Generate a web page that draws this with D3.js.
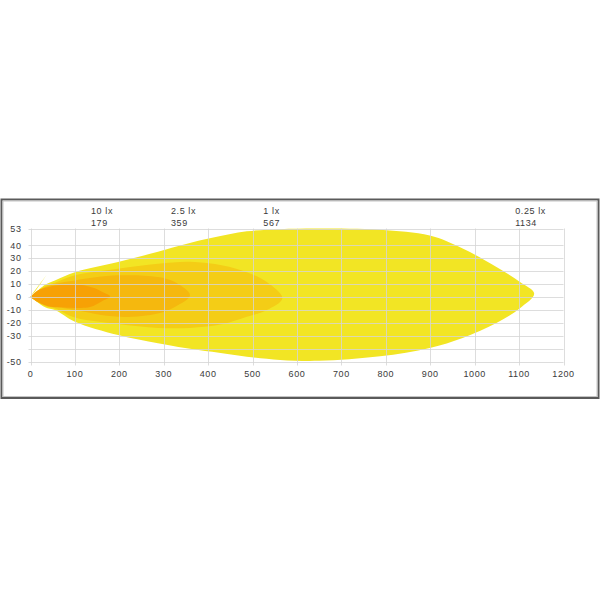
<!DOCTYPE html>
<html>
<head>
<meta charset="utf-8">
<script src="https://cdn.jsdelivr.net/npm/d3@7"></script>
<style>
  body { margin: 0; background: #fff; }
  text { font-family: "Liberation Sans", Arial, sans-serif; font-size: 9px; fill: #3a3a3a; letter-spacing: 0.6px; }
</style>
</head>
<body>
<div id="chart"></div>
<script>
// axis ticks
var xTicks = [0, 100, 200, 300, 400, 500, 600, 700, 800, 900, 1000, 1100, 1200];
var yTicks = [53, 40, 30, 20, 10, 0, -10, -20, -30, -50];
var yGrid = [53, 40, 30, 20, 10, 0, -10, -20, -30, -40, -50];

// isolux levels and their reach (m)
var levels = ["10 lx", "2.5 lx", "1 lx", "0.25 lx"];
var reach = [179, 359, 567, 1134];

// outlines, [distance, lateral]
var beam025 = [[0,0],[33,9.5],[55,12.8],[100,19.2],[197,27],[287,35],[348,40.8],[409,45.8],[487,50.8],
  [562,52.5],[650,53],[787,52],[899,47.5],[973,37.5],[1050,23],[1102,11.5],[1134,2.6],
  [1102,-8.7],[1050,-20],[973,-31.8],[899,-39.5],[787,-46],[650,-49.5],[562,-48.8],[487,-46.3],
  [409,-42.5],[348,-39.5],[287,-35.8],[197,-29.5],[100,-19.2],[55,-10.2],[33,-8],[0,0]];
var beam1 = [[0,0],[33,8.3],[55,11],[100,16.7],[197,21.8],[287,25.7],[359,27.3],[433,24.4],[487,19.2],
  [532,11.5],[567,-1],[532,-10.2],[487,-15.4],[433,-21],[359,-24],[287,-24],[197,-21],[100,-16],
  [55,-9],[33,-7],[0,0]];
var beam25 = [[0,0],[20,5.5],[55,10],[100,12.8],[197,16.7],[287,15.4],[325,11.5],[359,1.3],[325,-7.7],
  [287,-12.8],[197,-15.4],[100,-10.2],[55,-7.5],[20,-4.5],[0,0]];
var beam10 = [[0,0],[17,5.2],[39,7.5],[62,9],[111,9.5],[145,6.7],[163,3.6],[179,0.5],[160,-3.5],[134,-7.8],
  [89,-8.3],[39,-7.2],[17,-4],[0,0]];
var spikeUp = [[0,0.5],[36,17],[10,4]];
var spikeDown = [[0,-0.5],[24,-8],[8,-3]];

var width = 600, height = 600;
var colors = { b025: "#f2e524", b1: "#f4cd16", b25: "#f5b80e", b10: "#f7a105" };

var svg = d3.select("#chart").append("svg")
  .attr("width", width).attr("height", height);

var x = d3.scaleLinear().domain([0, 1200]).range([30.5, 563.5]);
var y = d3.scaleLinear().domain([-50, 53]).range([361.5, 228.5]);

// frame
svg.append("rect").attr("x", 1.5).attr("y", 199.5).attr("width", 597).attr("height", 198.5)
  .attr("fill", "none").attr("stroke", "#5a5a5a").attr("stroke-width", 2);
svg.append("rect").attr("x", 3).attr("y", 201).attr("width", 594).attr("height", 195.5)
  .attr("fill", "none").attr("stroke", "#c4c4c4").attr("stroke-width", 1);

var smooth = d3.line().x(function (d) { return x(d[0]); }).y(function (d) { return y(d[1]); })
  .curve(d3.curveCatmullRom.alpha(0.5));
var straight = d3.line().x(function (d) { return x(d[0]); }).y(function (d) { return y(d[1]); });

svg.append("path").attr("d", smooth(beam025)).attr("fill", colors.b025);
svg.append("path").attr("d", straight(spikeUp) + "Z").attr("fill", colors.b025);
svg.append("path").attr("d", straight(spikeDown) + "Z").attr("fill", colors.b025);
svg.append("path").attr("d", smooth(beam1)).attr("fill", colors.b1);
svg.append("path").attr("d", smooth(beam25)).attr("fill", colors.b25);
svg.append("path").attr("d", smooth(beam10)).attr("fill", colors.b10);

// grid on top of the beam
var grid = svg.append("g").attr("stroke", "#d4d4d4").attr("stroke-opacity", 0.8).attr("stroke-width", 1);
grid.selectAll(".gx").data(xTicks).enter().append("line")
  .attr("x1", function (d) { return Math.round(x(d)) + 0.5; })
  .attr("x2", function (d) { return Math.round(x(d)) + 0.5; })
  .attr("y1", y(53)).attr("y2", y(-50) + 4);
grid.selectAll(".gy").data(yGrid).enter().append("line")
  .attr("x1", x(0) - 2).attr("x2", x(1200))
  .attr("y1", function (d) { return Math.round(y(d)) + 0.5; })
  .attr("y2", function (d) { return Math.round(y(d)) + 0.5; });

// tick labels
svg.selectAll(".xl").data(xTicks).enter().append("text")
  .attr("x", function (d) { return x(d); }).attr("y", 376.5)
  .attr("text-anchor", "middle").text(function (d) { return d; });
svg.selectAll(".yl").data(yTicks).enter().append("text")
  .attr("x", 21.5).attr("y", function (d) { return y(d) + 3.3; })
  .attr("text-anchor", "end").text(function (d) { return d; });

// reach labels
svg.selectAll(".lv").data(levels).enter().append("text")
  .attr("x", function (d, i) { return x(reach[i]) - 19; }).attr("y", 213.5)
  .attr("fill", "#555").text(function (d) { return d; });
svg.selectAll(".rc").data(reach).enter().append("text")
  .attr("x", function (d) { return x(d) - 19; }).attr("y", 226)
  .text(function (d) { return d; });
</script>
</body>
</html>
